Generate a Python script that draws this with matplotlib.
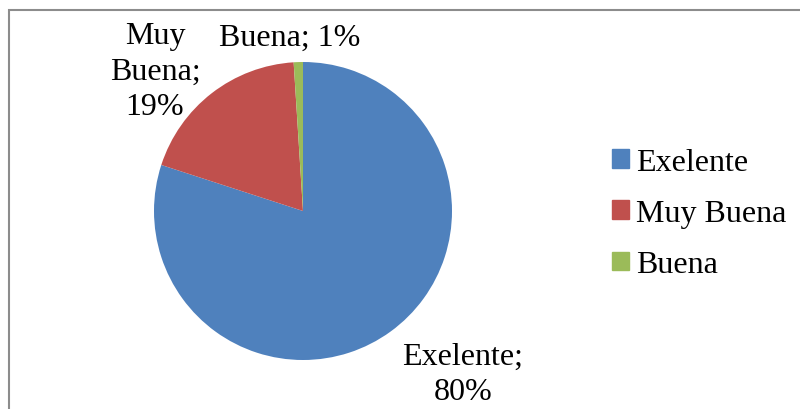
import matplotlib
matplotlib.use("Agg")
import matplotlib.pyplot as plt
import matplotlib.patches as mpatches

plt.rcParams['font.family'] = ['Liberation Serif', 'DejaVu Serif']

categories = ['Exelente', 'Muy Buena', 'Buena']
values = [80, 19, 1]
colors = ['#4F81BD', '#C0504D', '#9BBB59']
# label positions in pie units (radius = 1)
label_pos = [(1.074, -1.094), (-0.993, 0.94), (-0.087, 1.168)]

W, H = 800, 410
fig = plt.figure(figsize=(W / 100, H / 100), dpi=100)

# chart border (right/bottom fall outside the picture)
fig.patches.append(mpatches.Rectangle((8.5 / W, -0.1), 1.0, (H - 10.5) / H + 0.1,
                                      transform=fig.transFigure, fill=False,
                                      edgecolor='#8c8c8c', lw=1.5))

# pie axes: center (303, 212) px, radius 149 px
cx, cy, r = 303, 212, 149
ax = fig.add_axes([(cx - r) / W, (H - cy - r) / H, 2 * r / W, 2 * r / H])
wedges, _ = ax.pie(values, colors=colors, startangle=90, counterclock=False,
                   radius=1.0)
ax.set_xlim(-1, 1)
ax.set_ylim(-1, 1)
ax.set_aspect('auto')
ax.axis('off')

lab_text = ['Exelente;\n80%', 'Muy\nBuena;\n19%', 'Buena; 1%']
for (x, y), t in zip(label_pos, lab_text):
    ax.text(x, y, t, ha='center', va='center', fontsize=23, clip_on=False,
            linespacing=1.3)

handles = [mpatches.Patch(color=c, label=l) for c, l in zip(colors, categories)]
fig.legend(handles=handles, loc='center left', bbox_to_anchor=(612 / W, 1 - 214.5 / H),
           frameon=False, fontsize=23, handlelength=0.52, handleheight=0.52,
           handletextpad=0.22, labelspacing=0.70, borderpad=0, borderaxespad=0)

fig.savefig('out.png', dpi=100)
